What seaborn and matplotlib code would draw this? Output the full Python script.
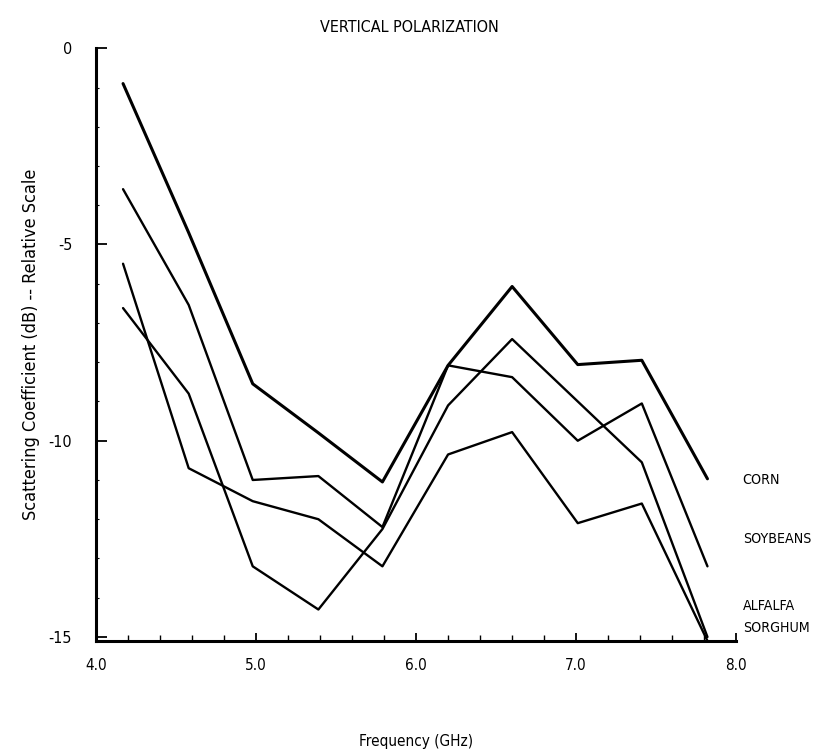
import matplotlib
matplotlib.use("Agg")
import matplotlib.pyplot as plt
import seaborn as sns
import pandas as pd
from matplotlib.ticker import MultipleLocator, FixedLocator

# ---- data ----
freq = [4.17, 4.58, 4.98, 5.39, 5.79, 6.20, 6.60, 7.01, 7.41, 7.82]
corn = [-0.9, -4.7, -8.55, -9.8, -11.05, -8.08, -6.07, -8.06, -7.95, -10.97]
soybeans = [-3.59, -6.54, -11.0, -10.9, -12.2, -8.08, -8.38, -10.0, -9.05, -13.2]
alfalfa = [-6.62, -8.8, -13.2, -14.3, -12.25, -9.1, -7.41, -9.0, -10.55, -15.0]
sorghum = [-5.49, -10.7, -11.54, -12.0, -13.2, -10.35, -9.78, -12.1, -11.6, -15.1]

crops = ["CORN", "SOYBEANS", "ALFALFA", "SORGHUM"]
series = [corn, soybeans, alfalfa, sorghum]
x_ticks = [4.0, 5.0, 6.0, 7.0, 8.0]
x_tick_labels = ["4.0", "5.0", "6.0", "7.0", "8.0"]
y_ticks = [0, -5, -10, -15]
y_tick_labels = ["0", "-5", "-10", "-15"]

rows = []
for name, vals in zip(crops, series):
    for f, v in zip(freq, vals):
        rows.append({"crop": name, "freq": f, "value": v})
df = pd.DataFrame(rows)

sns.set_style("ticks")
plt.rcParams["font.family"] = ["DejaVu Sans"]
plt.rcParams["font.stretch"] = "condensed"
plt.rcParams["text.color"] = "black"
plt.rcParams["axes.labelcolor"] = "black"
plt.rcParams["xtick.color"] = "black"
plt.rcParams["ytick.color"] = "black"

fig = plt.figure(figsize=(8.19, 7.54), dpi=100)
ax = fig.add_axes([0.117, 0.150, 0.782, 0.786])

widths = {"CORN": 2.2, "SOYBEANS": 1.7, "ALFALFA": 1.7, "SORGHUM": 1.7}
for name in crops:
    sns.lineplot(data=df[df["crop"] == name], x="freq", y="value",
                 color="black", linewidth=widths[name], ax=ax,
                 legend=False, estimator=None, sort=False)

ax.set_xlim(4.0, 8.0)
ax.set_ylim(-15.1, 0)
ax.xaxis.set_major_locator(FixedLocator(x_ticks))
ax.set_xticklabels(x_tick_labels)
ax.xaxis.set_minor_locator(MultipleLocator(0.2))
ax.yaxis.set_major_locator(FixedLocator(y_ticks))
ax.set_yticklabels(y_tick_labels)
ax.yaxis.set_minor_locator(MultipleLocator(1))

for s in ["top", "right"]:
    ax.spines[s].set_visible(False)
for s in ["left", "bottom"]:
    ax.spines[s].set_linewidth(2.2)
    ax.spines[s].set_color("black")

ax.tick_params(axis="x", which="major", direction="in", length=6, width=1.3,
               pad=12, labelsize=11)
ax.tick_params(axis="x", which="minor", direction="in", length=4, width=1.0)
ax.tick_params(axis="y", which="major", direction="in", length=8, width=1.3,
               pad=17, labelsize=11.5)
ax.tick_params(axis="y", which="minor", direction="in", length=2, width=0.8)

ax.set_xlabel("Frequency (GHz)", fontsize=11, labelpad=44)
ax.set_ylabel("Scattering Coefficient (dB) -- Relative Scale", fontsize=13,
              labelpad=6)
fig.text(0.5, 0.964, "VERTICAL POLARIZATION", ha="center", va="center",
         fontsize=11.5)

# end labels
label_y = {"CORN": -11.0, "SOYBEANS": -12.5, "ALFALFA": -14.2, "SORGHUM": -14.78}
for name in crops:
    ax.text(8.04, label_y[name], name, ha="left", va="center",
            fontsize=10.2, clip_on=False)

fig.savefig("out.png", dpi=100, facecolor="white")
